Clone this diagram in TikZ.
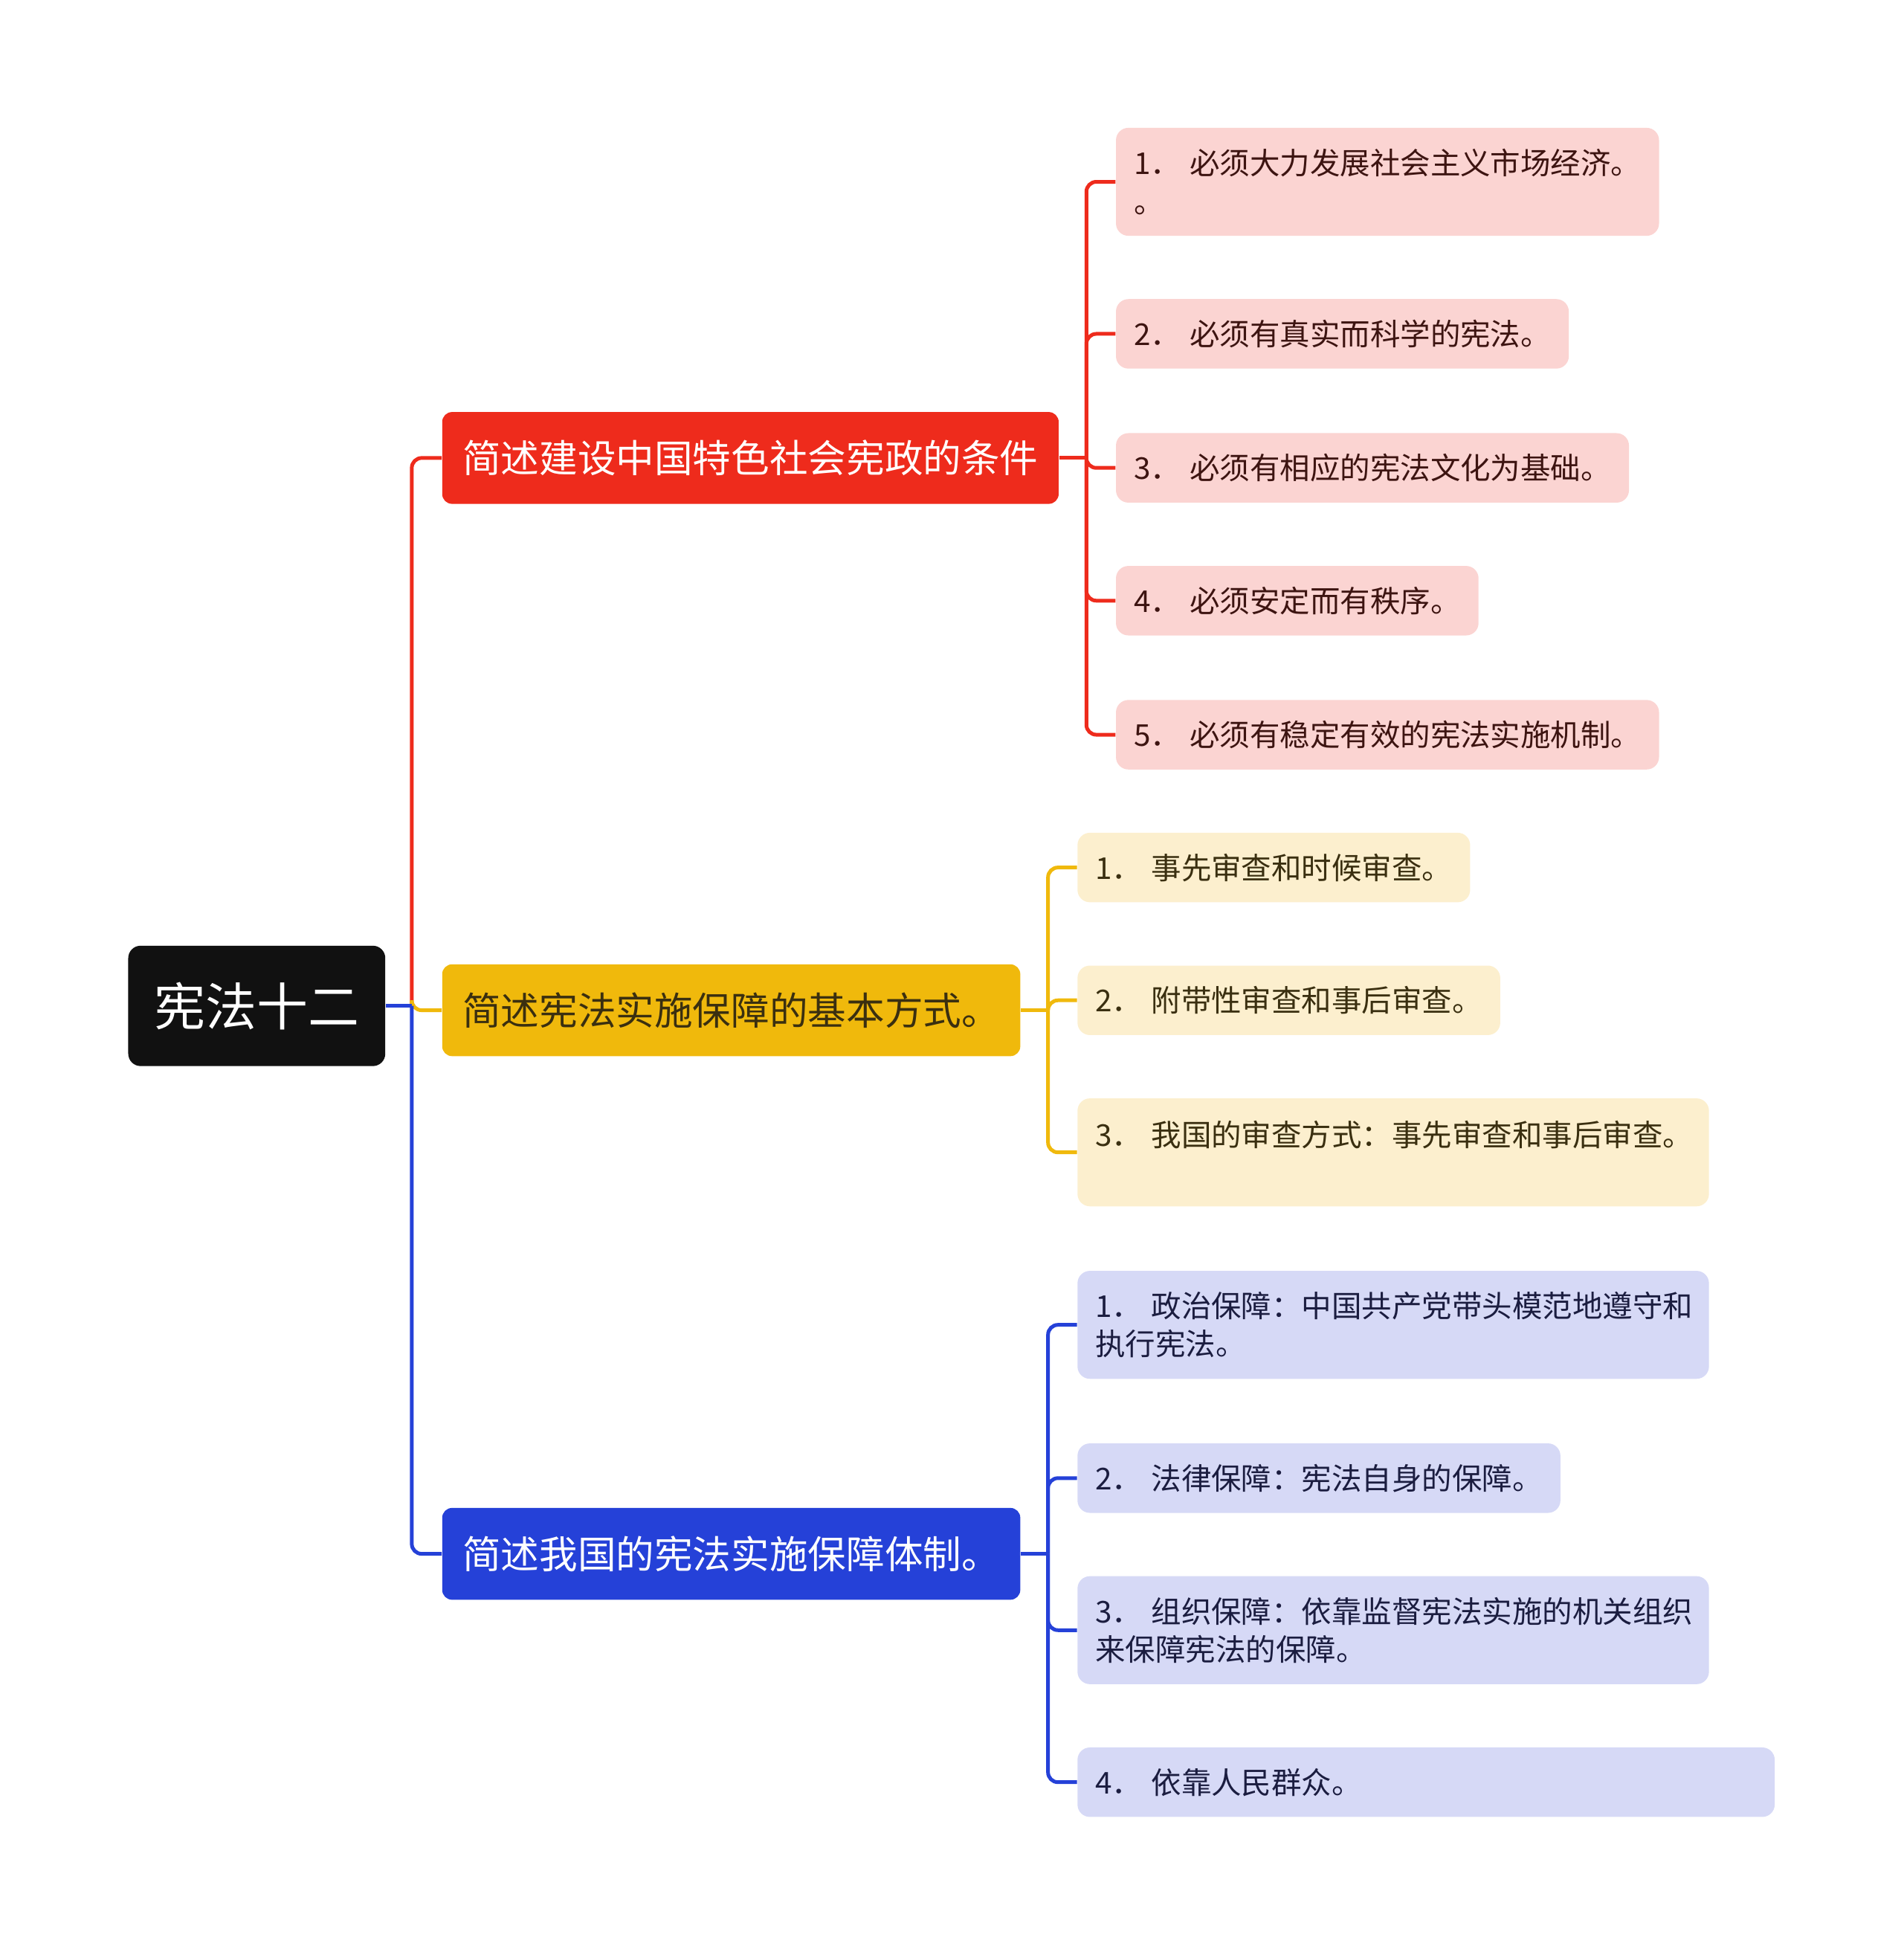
\documentclass[tikz,border=0pt]{standalone}
\usepackage{fontspec}
\newfontfamily\cjk{Noto Sans CJK SC}
\usepackage{tikz}
\usetikzlibrary{positioning}

\definecolor{rootfill}{HTML}{111111}
\definecolor{redmain}{HTML}{EE2B1C}
\definecolor{yelmain}{HTML}{F0B90C}
\definecolor{blumain}{HTML}{2541D8}
\definecolor{redleaf}{HTML}{FBD4D2}
\definecolor{yelleaf}{HTML}{FCEFCE}
\definecolor{bluleaf}{HTML}{D6D9F6}
\definecolor{redtxt}{HTML}{3D1411}
\definecolor{yeltxt}{HTML}{3A2F10}
\definecolor{blutxt}{HTML}{1B1D40}

\newcommand{\itemno}[1]{\makebox[0.9cm][l]{#1．}}

\begin{document}
\begin{tikzpicture}[
  x=0.02cm, y=-0.02cm,
  root/.style={
    fill=rootfill, text=white, rounded corners=0.2cm, anchor=west,
    font=\cjk\fontsize{23.5}{28}\selectfont, inner xsep=0.42cm,
    minimum height=1.94cm
  },
  topic/.style={
    text=white, rounded corners=0.16cm, anchor=west,
    font=\cjk\fontsize{17.6}{21}\selectfont, inner xsep=0.33cm,
    minimum height=1.48cm
  },
  leaf/.style={
    rounded corners=0.2cm, anchor=west, align=left,
    font=\cjk\fontsize{13.8}{17.6}\selectfont, inner xsep=0.29cm,
    inner ysep=0.3cm, minimum height=1.12cm
  },
  tall/.style={minimum height=1.74cm},
  link/.style={line width=1.7pt, rounded corners=0.16cm}
]
\useasboundingbox (0,0) rectangle (1534,1568);

% --- root ---
\node[root] (root) at (103,810.5) {宪法十二};

% --- 1. 宪政的条件 ---
\node[topic, fill=redmain] (cond) at (356,369) {简述建设中国特色社会宪政的条件};
\node[leaf, tall, fill=redleaf, text=redtxt] (cond1) at (899,146.5)
  {\itemno{1}必须大力发展社会主义市场经济。\\。};
\node[leaf, fill=redleaf, text=redtxt] (cond2) at (899,269)
  {\itemno{2}必须有真实而科学的宪法。};
\node[leaf, fill=redleaf, text=redtxt] (cond3) at (899,377)
  {\itemno{3}必须有相应的宪法文化为基础。};
\node[leaf, fill=redleaf, text=redtxt] (cond4) at (899,484)
  {\itemno{4}必须安定而有秩序。};
\node[leaf, fill=redleaf, text=redtxt] (cond5) at (899,592)
  {\itemno{5}必须有稳定有效的宪法实施机制。};

% --- 2. 基本方式 ---
\node[topic, fill=yelmain, text=yeltxt] (mode) at (356,814) {简述宪法实施保障的基本方式。};
\node[leaf, fill=yelleaf, text=yeltxt] (mode1) at (868,699)
  {\itemno{1}事先审查和时候审查。};
\node[leaf, fill=yelleaf, text=yeltxt] (mode2) at (868,806)
  {\itemno{2}附带性审查和事后审查。};
\node[leaf, tall, fill=yelleaf, text=yeltxt, text width=9.6cm] (mode3) at (868,928.5)
  {\itemno{3}我国的审查方式：事先审查和事后审查。\\~};

% --- 3. 保障体制 ---
\node[topic, fill=blumain] (sys) at (356,1252) {简述我国的宪法实施保障体制。};
\node[leaf, tall, fill=bluleaf, text=blutxt, text width=9.6cm] (sys1) at (868,1067.5)
  {\itemno{1}政治保障：中国共产党带头模范地遵守和\\执行宪法。};
\node[leaf, fill=bluleaf, text=blutxt] (sys2) at (868,1191)
  {\itemno{2}法律保障：宪法自身的保障。};
\node[leaf, tall, fill=bluleaf, text=blutxt, text width=9.6cm] (sys3) at (868,1313.5)
  {\itemno{3}组织保障：依靠监督宪法实施的机关组织\\来保障宪法的保障。};
\node[leaf, fill=bluleaf, text=blutxt, text width=10.66cm] (sys4) at (868,1436)
  {\itemno{4}依靠人民群众。};

% branches: stub to the trunk, then one elbow per child
\draw[link, redmain] (cond.east) -- ++(22,0) coordinate (condj);
\draw[link, yelmain] (mode.east) -- ++(22,0) coordinate (modej);
\draw[link, blumain] (sys.east) -- ++(22,0) coordinate (sysj);
\foreach \n in {1,...,5}
  \draw[link, redmain] (condj) |- (cond\n.west);
\foreach \n in {1,...,3}
  \draw[link, yelmain] (modej) |- (mode\n.west);
\foreach \n in {1,...,4}
  \draw[link, blumain] (sysj) |- (sys\n.west);

\coordinate (rootj) at ([xshift=21*0.02cm]root.east);
\draw[link, redmain] (rootj) |- (cond.west);
\draw[link, yelmain] (rootj) |- (mode.west);
\draw[link, blumain] (rootj) |- (sys.west);
\draw[link, blumain] (root.east) -- (rootj);

\end{tikzpicture}
\end{document}
